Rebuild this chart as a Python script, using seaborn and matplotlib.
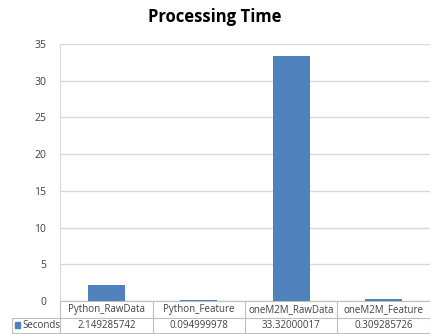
import pandas as pd
import seaborn as sns
import matplotlib.pyplot as plt

categories = ['Python_RawData', 'Python_Feature', 'oneM2M_RawData', 'oneM2M_Feature']
seconds = [2.149285742, 0.094999978, 33.32000017, 0.309285726]
value_labels = ['2.149285742', '0.094999978', '33.32000017', '0.309285726']
series_name = 'Seconds'
y_ticks = [0, 5, 10, 15, 20, 25, 30, 35]

W, H = 430, 334
bar_color = '#4F81BD'
grid_color = '#D9D9D9'
text_color = '#404040'

sns.set_style('white')
plt.rcParams['font.family'] = ['Open Sans', 'DejaVu Sans']

df = pd.DataFrame({'category': categories, 'seconds': seconds})

fig = plt.figure(figsize=(W / 100, H / 100), dpi=100)
left, right, top, bottom = 60, 430, 44, 301
ax = fig.add_axes([left / W, 1 - bottom / H, (right - left) / W, (bottom - top) / H])

sns.barplot(data=df, x='category', y='seconds', color=bar_color, width=0.4,
            saturation=1, edgecolor=bar_color, linewidth=0, ax=ax, zorder=3)

ax.set_ylim(0, 35)
ax.set_xlim(-0.5, len(categories) - 0.5)
ax.set_yticks(y_ticks)
ax.set_yticklabels([str(t) for t in y_ticks], fontsize=7.5, color=text_color)
ax.tick_params(axis='y', length=5, width=0.8, color=grid_color, pad=5)
ax.set_xticks([])
ax.set_xlabel('')
ax.set_ylabel('')
ax.yaxis.grid(True, color=grid_color, linewidth=1, zorder=0)
for s in ['top', 'right']:
    ax.spines[s].set_visible(False)
ax.spines['left'].set_color(grid_color)
ax.spines['bottom'].set_color('#BFBFBF')

fig.text(215 / W, 1 - 17 / H, 'Processing Time', ha='center', va='center',
         fontsize=12, fontweight='bold', color='black')

# data table under the axis
def fx(px):
    return px / W

def fy(py):
    return 1 - py / H

col_edges = [60, 153, 245, 337, 430]
row_top, row_mid, row_bot = 301, 318, 333
lc = '#BFBFBF'
for xe in col_edges:
    fig.add_artist(plt.Line2D([fx(xe), fx(xe)], [fy(row_top), fy(row_bot)], color=lc, lw=0.8))
fig.add_artist(plt.Line2D([fx(12), fx(430)], [fy(row_mid), fy(row_mid)], color=lc, lw=0.8))
fig.add_artist(plt.Line2D([fx(12), fx(430)], [fy(row_bot), fy(row_bot)], color=lc, lw=0.8))
fig.add_artist(plt.Line2D([fx(12), fx(12)], [fy(row_mid), fy(row_bot)], color=lc, lw=0.8))

for i, (cat, val) in enumerate(zip(categories, value_labels)):
    cx = (col_edges[i] + col_edges[i + 1]) / 2
    fig.text(fx(cx), fy((row_top + row_mid) / 2), cat, ha='center', va='center',
             fontsize=7, color=text_color)
    fig.text(fx(cx), fy((row_mid + row_bot) / 2), val, ha='center', va='center',
             fontsize=7, color=text_color)

fig.add_artist(plt.Rectangle((fx(15), fy(328)), 5 / W, 6 / H, color=bar_color))
fig.text(fx(22), fy((row_mid + row_bot) / 2), series_name, ha='left', va='center',
         fontsize=7, color=text_color)

fig.savefig('out.png', dpi=100)
